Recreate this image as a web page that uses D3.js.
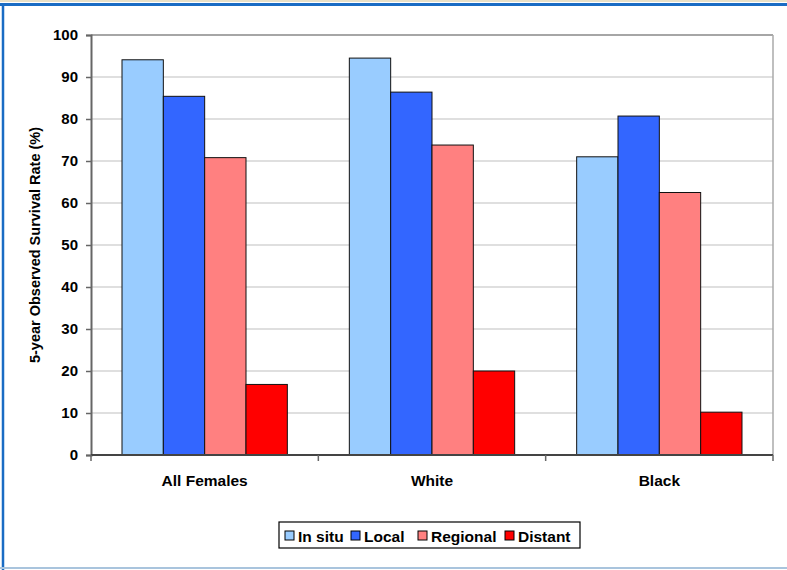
<!DOCTYPE html>
<html>
<head>
<meta charset="utf-8">
<script src="https://cdn.jsdelivr.net/npm/d3@7"></script>
<style>
  body { margin: 0; background: #fff; }
  text { font-family: "Liberation Sans", Arial, sans-serif; font-weight: bold; }
</style>
</head>
<body>
<div id="chart"></div>
<script>
const groups = ["All Females", "White", "Black"];
const stages = ["In situ", "Local", "Regional", "Distant"];
const inSitu = [94.1, 94.5, 71.0];
const local = [85.4, 86.4, 80.7];
const regional = [70.8, 73.8, 62.5];
const distant = [16.8, 20.0, 10.2];
const yTicks = [0, 10, 20, 30, 40, 50, 60, 70, 80, 90, 100];
const colors = ["#99ccff", "#3366ff", "#ff8080", "#ff0000"];

const width = 787, height = 570;
const margin = { top: 35, right: 14, bottom: 115, left: 91 };
const innerWidth = width - margin.left - margin.right;
const innerHeight = height - margin.top - margin.bottom;

const svg = d3.select("#chart").append("svg").attr("width", width).attr("height", height);

// outer frame
svg.append("rect").attr("x", 0).attr("y", 0).attr("width", width).attr("height", height).attr("fill", "#fff");
svg.append("line").attr("x1", 0).attr("x2", width).attr("y1", 1).attr("y2", 1).attr("stroke", "#e8e0c8").attr("stroke-width", 2);
svg.append("line").attr("x1", 0).attr("x2", width).attr("y1", 4.5).attr("y2", 4.5).attr("stroke", "#1a6cc4").attr("stroke-width", 3);
svg.append("line").attr("x1", 3).attr("x2", 3).attr("y1", 3).attr("y2", height).attr("stroke", "#1a6cc4").attr("stroke-width", 2.5);
svg.append("line").attr("x1", 0).attr("x2", width).attr("y1", height - 2).attr("y2", height - 2).attr("stroke", "#a9c4dd").attr("stroke-width", 2);

const chart = svg.append("g").attr("transform", `translate(${margin.left},${margin.top})`);

const table = groups.map((g, i) => ({ group: g, values: [inSitu[i], local[i], regional[i], distant[i]] }));

const x0 = d3.scaleBand().domain(groups).range([0, innerWidth]).paddingInner(0).paddingOuter(0);
const x1 = d3.scaleBand().domain(stages).range([31, x0.bandwidth() - 31]);
const y = d3.scaleLinear().domain([0, 100]).range([innerHeight, 0]);

// gridlines
chart.append("g")
    .selectAll("line").data(yTicks.slice(1)).enter().append("line")
    .attr("x1", 0).attr("x2", innerWidth)
    .attr("y1", d => y(d)).attr("y2", d => y(d))
    .attr("stroke", d => d === 100 ? "#888" : "#c0c0c0").attr("stroke-width", d => d === 100 ? 1.5 : 1.2);

chart.append("line").attr("x1", innerWidth).attr("x2", innerWidth).attr("y1", 0).attr("y2", innerHeight)
    .attr("stroke", "#aaa").attr("stroke-width", 1.5);

// bars
const gGroups = chart.selectAll(".grp").data(table).enter().append("g")
    .attr("transform", d => `translate(${x0(d.group)},0)`);

gGroups.selectAll("rect").data(d => d.values.map((v, i) => ({ stage: stages[i], value: v, i })))
    .enter().append("rect")
    .attr("x", d => x1(d.stage))
    .attr("y", d => y(d.value))
    .attr("width", x1.bandwidth())
    .attr("height", d => innerHeight - y(d.value))
    .attr("fill", d => colors[d.i])
    .attr("stroke", "#111").attr("stroke-width", 1);

// y axis
const yAxis = chart.append("g")
    .call(d3.axisLeft(y).tickValues(yTicks).tickSize(5).tickPadding(8));
yAxis.select(".domain").attr("stroke", "#666").attr("stroke-width", 2);
yAxis.selectAll(".tick line").attr("stroke", "#666").attr("stroke-width", 1.5);
yAxis.selectAll("text").style("font-size", "15px").style("font-weight", "bold")
    .style("font-family", "'Liberation Sans', Arial, sans-serif").attr("fill", "#000");

// x axis
const xAxisG = chart.append("g").attr("transform", `translate(0,${innerHeight})`);
xAxisG.append("line").attr("x1", 0).attr("x2", innerWidth).attr("stroke", "#444").attr("stroke-width", 2);
xAxisG.selectAll(".tk").data(groups.map(g => x0(g)).concat([innerWidth])).enter().append("line")
    .attr("x1", d => d).attr("x2", d => d).attr("y1", 0).attr("y2", 6)
    .attr("stroke", "#666").attr("stroke-width", 1.5);
xAxisG.selectAll(".lbl").data(groups).enter().append("text")
    .attr("x", d => x0(d) + x0.bandwidth() / 2).attr("y", 31)
    .attr("text-anchor", "middle").style("font-size", "15.5px").attr("fill", "#000")
    .text(d => d);

// y title
svg.append("text")
    .attr("transform", `translate(40,${margin.top + innerHeight / 2}) rotate(-90)`)
    .attr("text-anchor", "middle").style("font-size", "14.5px").attr("fill", "#000")
    .text("5-year Observed Survival Rate (%)");

// legend
const legend = svg.append("g").attr("transform", "translate(279,522)");
legend.append("rect").attr("x", 0).attr("y", 0).attr("width", 301).attr("height", 26)
    .attr("fill", "#fff").attr("stroke", "#000").attr("stroke-width", 1.2);
const offsets = [6, 72, 139, 226];
stages.forEach((s, i) => {
    const item = legend.append("g").attr("transform", `translate(${offsets[i]},0)`);
    item.append("rect").attr("x", 0).attr("y", 9).attr("width", 9).attr("height", 9)
        .attr("fill", colors[i]).attr("stroke", "#000").attr("stroke-width", 1);
    item.append("text").attr("x", 13).attr("y", 19.5).style("font-size", "15.5px").attr("fill", "#000").text(s);
});
</script>
</body>
</html>
